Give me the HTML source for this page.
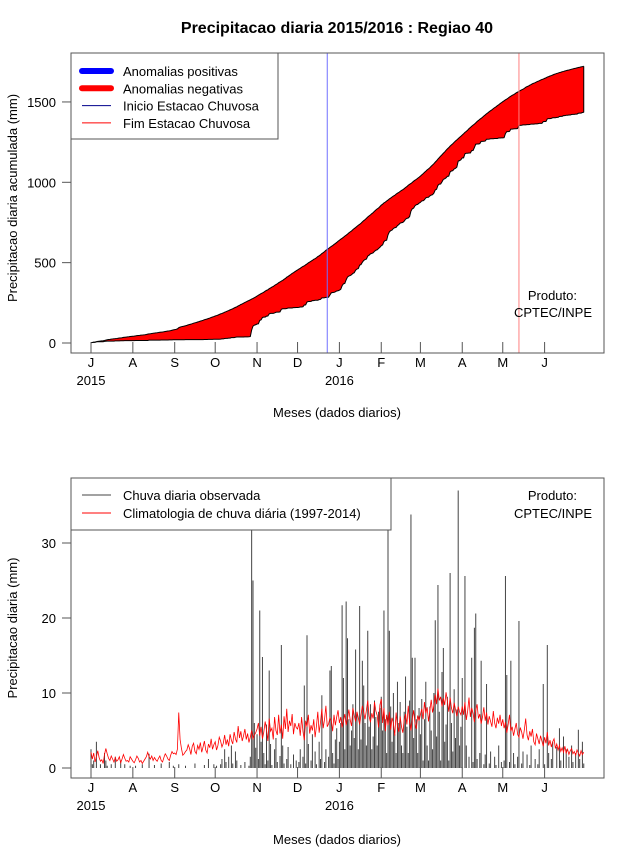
<!DOCTYPE html>
<html><head><meta charset="utf-8"><style>
html,body{margin:0;padding:0;background:#fff;}
svg text{font-family:"Liberation Sans",sans-serif;fill:#000;}
</style></head><body>
<svg id="chart" width="640" height="850" xmlns="http://www.w3.org/2000/svg">
<defs><clipPath id="clipBot"><rect x="71" y="478" width="533" height="300"/></clipPath></defs>
<text x="337" y="33" text-anchor="middle" font-size="16" font-weight="bold">Precipitacao diaria 2015/2016 : Regiao 40</text>
<g id="top"></g>
<g id="bot"></g>
</svg>
<script>
const monthLabels=["J","A","S","O","N","D","J","F","M","A","M","J"];
const monthStartDays=[0,31,62,92,123,153,184,215,244,275,305,336];
const yearLabels=["2015","2016"];
const yearDays=[0,184];
const topTicks=[0,500,1000,1500];
const botTicks=[0,10,20,30];
const onsetDay=175;
const endDay=317;
const climDaily=[
2.1,1.2,2.0,0.8,1.5,2.3,1.4,0.9,1.1,0.6,1.8,2.6,1.9,1.3,1.0,1.6,1.2,0.8,1.4,0.9,1.1,1.5,0.7,1.2,1.8,1.3,0.9,1.0,0.8,1.5,1.2,
0.9,0.7,1.1,1.6,1.3,0.8,1.0,0.6,0.9,1.2,1.5,2.1,1.5,1.2,1.6,1.0,1.4,1.1,0.9,1.3,1.6,1.0,0.8,1.4,1.9,1.6,1.2,1.0,1.7,2.2,1.9,
2.0,1.8,2.5,7.4,3.8,2.6,1.7,1.9,2.2,2.4,3.1,2.6,1.8,2.9,3.3,2.2,1.9,3.0,2.5,3.4,2.1,2.8,3.6,2.4,2.0,3.2,2.7,3.9,2.5,3.1,
3.5,2.4,3.0,4.1,3.6,2.8,3.3,4.4,3.1,3.8,2.9,4.5,3.7,3.2,4.8,3.9,3.4,5.6,4.0,4.9,3.6,4.3,5.2,3.8,4.6,3.4,4.1,5.0,3.9,4.4,4.7,
5.2,6.0,4.3,5.5,3.9,4.8,6.2,5.1,3.6,6.6,4.9,5.3,3.8,6.8,5.0,4.4,7.1,4.6,5.8,3.9,6.9,5.2,7.9,4.8,6.3,5.6,7.2,4.5,6.0,5.4,
5.2,6.0,4.3,6.8,4.9,3.7,6.3,5.5,7.1,4.6,5.7,5.0,6.5,4.1,5.6,7.5,4.7,6.1,7.9,5.3,6.5,8.3,5.5,5.9,6.7,6.3,4.9,7.1,5.7,6.8,7.7,
6.0,6.8,5.4,6.3,7.2,5.7,6.6,7.8,6.4,5.6,8.0,7.0,6.2,7.5,6.7,5.8,7.1,8.3,7.4,6.5,7.7,9.0,6.9,6.1,7.3,6.6,8.8,7.6,7.0,5.4,8.4,
9.2,6.0,8.0,4.9,7.1,5.7,7.5,5.1,6.7,6.0,4.3,7.4,5.6,4.8,6.9,5.5,4.7,6.4,7.2,5.8,8.3,6.1,5.0,6.6,7.7,5.9,5.2,7.0,6.3,
7.1,7.9,6.5,8.8,7.3,8.1,6.2,7.6,9.1,7.4,8.3,9.8,8.5,10.6,9.0,9.5,8.2,9.3,8.4,10.1,8.9,7.5,9.4,8.0,7.3,8.7,7.8,6.9,8.2,7.5,7.1,
8.2,7.1,8.8,6.4,7.6,9.4,6.8,8.0,7.3,6.1,7.7,8.5,6.6,7.2,5.9,6.8,8.1,6.3,7.4,5.8,6.9,6.2,5.5,7.6,6.0,5.3,6.7,5.9,7.1,5.6,
6.5,5.3,6.1,4.7,5.8,7.1,4.9,5.5,4.3,5.2,6.0,4.5,4.1,5.4,4.8,3.9,5.1,6.6,4.4,3.7,4.9,4.2,5.2,3.5,3.1,4.6,3.9,3.2,4.3,3.6,2.9,
4.1,3.3,4.8,3.0,3.7,2.8,3.5,3.9,2.6,3.2,2.4,3.0,2.2,2.7,2.1,2.9,2.0,2.5,1.8,2.3,2.6,1.9,2.2,1.7,2.4,2.0,1.6,2.3,1.8,2.1];
const obsDaily=[
2.5,0.5,1,0,3.5,0,0,0.5,0,0,2,1,0.3,0,0,0.5,0,0,1.5,0,0,0,1,0,0,0.5,0,0,0,0.3,0,
0,0,0.3,0,0,0,0,0.5,0,0,0,0,1.9,0,0,0,0.4,0,0,0,0,0.6,0,0,0,0,0,0.8,0,0,0.3,
0,0,0,0.5,0,0,0,0,0.3,0,0,0,0,0,0,0.6,0,0,0,0,0,0,0.4,0,0,1.2,0,0,0,0.5,
0,0.3,0,0,0.5,1.2,0,2.5,0.8,0,1.5,0,3.0,0.6,0,2.2,1.0,0,0,0.4,0,0,0.8,0,0,0.3,1.5,40,25,6,2.7,
4.5,1.2,21,3.5,14.8,2.0,0.5,5.8,1.0,13,3.2,0.4,0,2.5,4.0,0.8,0,1.6,16.4,3.0,0.6,0,1.2,2.8,0,0.5,0,1.8,0,1.0,
0,0.8,2.5,0,1.5,11,0.6,17.7,3.2,0,1.0,4.5,0,2.2,0.5,0,3.5,1.2,9.7,0,0.8,2.5,0,1.5,13,13.6,2.0,0.6,3.8,5.3,1.2,
3.5,6.0,21.7,12,2.5,22.2,17.3,6.5,3.0,5.0,8.5,4.0,15.8,7.2,2.5,21.6,3.8,14.3,11,6.0,3.0,18.3,5.5,8.5,2.5,4.2,9.0,6.8,3.0,7.5,8,
9.5,5.0,21,6.5,2.0,33,18.3,8.2,3.5,10.0,4.5,2.0,11.5,6.0,8.8,3.0,2.0,7.5,12.2,5.5,2.0,9.0,33.8,14.7,4.0,14.7,6.5,2.0,8.0,
4.5,9.2,1,6.5,11.5,3.0,1,8.2,5.0,2.5,10,19.7,4.2,24.4,7.5,1,12.8,16,3.5,5.8,9.5,1,26,6.0,2.2,10.5,4.0,7.8,37,3.0,5.5,
12,0,25.6,3.0,0,1.5,0,14.7,0.8,18.7,20.6,1.2,0,2.0,14.3,0,0.5,1.8,11.2,0,0.6,2.2,0,0,1.5,0.4,0,3.0,0,0.8,
0,1.0,25.6,12.4,0,0.8,14.3,0,2.0,0.5,0,1.5,19.6,0,0.6,2.2,0,0,1.8,0,0.4,3.0,0,0,1.2,0,0.5,2.5,0,0,11.2,
0.5,0,16.4,2.0,0,1.2,3.5,0,0,2.8,0,5.3,1.0,0,4.2,0,2.5,0,1.5,0,3.0,0.8,0,2.0,0,5.1,1.2,0,3.5,0.6];

const NS="http://www.w3.org/2000/svg";
function mk(parent,tag,attrs,text){const e=document.createElementNS(NS,tag);for(const k in attrs)e.setAttribute(k,attrs[k]);if(text!==undefined)e.textContent=text;parent.appendChild(e);return e;}
const xDay=d=>91+d*1.35;
const yTop=v=>343-v*0.1607;
const yBot=v=>768-v*7.5;
function cumsum(a){let s=0;return a.map(v=>s+=v);}

function axes(g,top,bottom,ticks,yf,yTitle,yTitleY,lblY){
  let e=mk(g,'rect',{x:71,y:top,width:533,height:bottom-top,fill:'none',stroke:'#555','stroke-width':1});
  
  ticks.forEach(t=>{
    let l=mk(g,'line',{x1:62,x2:71,y1:yf(t),y2:yf(t),stroke:'#555'});
    
    let tx=mk(g,'text',{x:56,y:yf(t)+5,'text-anchor':'end','font-size':13},String(t));
    
  });
  monthStartDays.forEach((d,i)=>{
    let l=mk(g,'line',{x1:xDay(d),x2:xDay(d),y1:bottom,y2:bottom-11,stroke:'#555'});
    
    let tx=mk(g,'text',{x:xDay(d),y:bottom+14,'text-anchor':'middle','font-size':13},monthLabels[i]);
    
  });
  yearDays.forEach((d,i)=>{
    let tx=mk(g,'text',{x:xDay(d),y:bottom+32,'text-anchor':'middle','font-size':13},yearLabels[i]);
    
  });
  let xt=mk(g,'text',{x:337,y:lblY,'text-anchor':'middle','font-size':13},'Meses (dados diarios)');
  
  let yt=mk(g,'text',{x:0,y:0,'text-anchor':'middle','font-size':13,transform:`translate(17,${yTitleY}) rotate(-90)`},yTitle);
  
}

// TOP
const gt=document.getElementById('top');
const climCum=cumsum(climDaily), obsCum=cumsum(obsDaily);
let up=climCum.map((v,i)=>xDay(i)+','+yTop(v)), lo=obsCum.map((v,i)=>xDay(i)+','+yTop(v));
let poly=mk(gt,'polygon',{points:up.concat(lo.slice().reverse()).join(' '),fill:'#ff0000',stroke:'none'});

let pu=mk(gt,'polyline',{points:up.join(' '),fill:'none',stroke:'#000','stroke-width':1});

let pl=mk(gt,'polyline',{points:lo.join(' '),fill:'none',stroke:'#000','stroke-width':1});

const last=climCum.length-1;
let ce=mk(gt,'line',{x1:xDay(last),x2:xDay(last),y1:yTop(climCum[last]),y2:yTop(obsCum[last]),stroke:'#000'});

let on=mk(gt,'line',{x1:xDay(onsetDay),x2:xDay(onsetDay),y1:53,y2:353,stroke:'#7070ff'});

let en=mk(gt,'line',{x1:xDay(endDay),x2:xDay(endDay),y1:53,y2:353,stroke:'#ff8080'});

axes(gt,53,353,topTicks,yTop,'Precipitacao diaria acumulada (mm)',198,417);
let p1=mk(gt,'text',{x:577,y:300,'text-anchor':'end','font-size':13},'Produto:');

let p2=mk(gt,'text',{x:592,y:317,'text-anchor':'end','font-size':13},'CPTEC/INPE');

let lg=mk(gt,'g',{});

mk(lg,'rect',{x:71,y:53,width:207,height:86,fill:'#fff',stroke:'#555'});
const legTop=[['Anomalias positivas','#0000ff',6],['Anomalias negativas','#ff0000',6],['Inicio Estacao Chuvosa','#00008b',1],['Fim Estacao Chuvosa','#ff0000',1]];
legTop.forEach((it,i)=>{
  const y=71+i*17.3;
  let ln=mk(lg,'line',{x1:82,x2:111,y1:y,y2:y,stroke:it[1],'stroke-width':it[2],'stroke-linecap':it[2]>1?'round':'butt'});
  
  let tx=mk(lg,'text',{x:123,y:y+5,'font-size':13},it[0]);
  
});

// BOTTOM
const gb=document.getElementById('bot');
const gbars=mk(gb,'g',{'clip-path':'url(#clipBot)'});


obsDaily.forEach((v,i)=>{
  let b=mk(gbars,'line',{x1:xDay(i),x2:xDay(i),y1:yBot(0),y2:yBot(v),stroke:'#444','stroke-width':1});
  
  
});
let cl=mk(gb,'polyline',{points:climDaily.map((v,i)=>xDay(i)+','+yBot(v)).join(' '),fill:'none',stroke:'#ff0000','stroke-width':0.8});

axes(gb,478,778,botTicks,yBot,'Precipitacao diaria (mm)',628,844);
let q1=mk(gb,'text',{x:577,y:500,'text-anchor':'end','font-size':13},'Produto:');

let q2=mk(gb,'text',{x:592,y:518,'text-anchor':'end','font-size':13},'CPTEC/INPE');

let lb=mk(gb,'g',{});

mk(lb,'rect',{x:71,y:478,width:320,height:52,fill:'#fff',stroke:'#555'});
const legBot=[['Chuva diaria observada','#444'],['Climatologia de chuva diária (1997-2014)','#ff0000']];
legBot.forEach((it,i)=>{
  const y=495+i*18;
  let ln=mk(lb,'line',{x1:82,x2:111,y1:y,y2:y,stroke:it[1],'stroke-width':1});
  
  let tx=mk(lb,'text',{x:123,y:y+5,'font-size':13},it[0]);
  
});
</script>
</body></html>
